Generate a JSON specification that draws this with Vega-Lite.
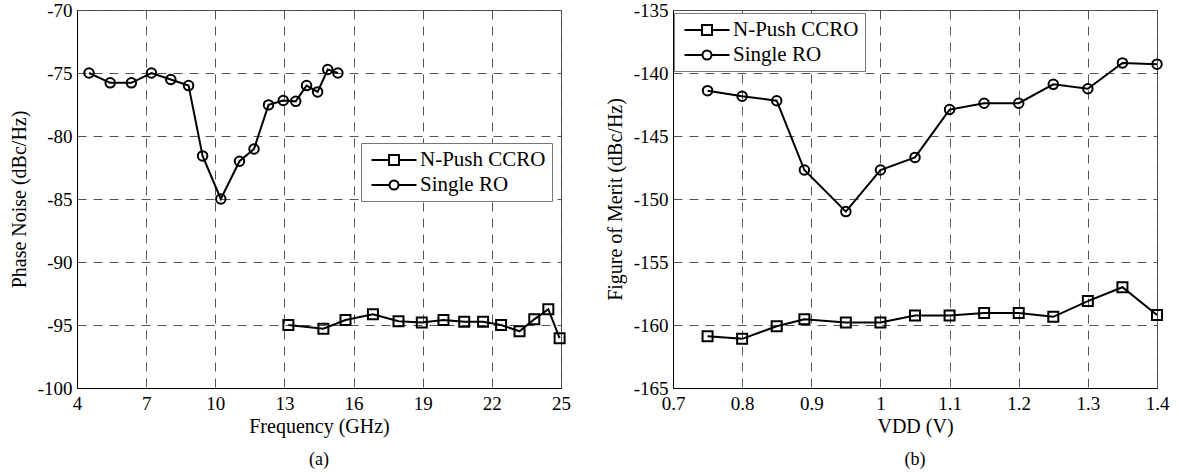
{
  "$schema": "https://vega.github.io/schema/vega-lite/v6.json",
  "background": "white",
  "padding": {"left": 8, "top": 0, "right": 10, "bottom": 0},
  "spacing": 33,
  "datasets": {
    "pn": [
      {"s": "Single RO", "x": 4.52, "y": -75.0},
      {"s": "Single RO", "x": 5.44, "y": -75.78},
      {"s": "Single RO", "x": 6.36, "y": -75.78},
      {"s": "Single RO", "x": 7.23, "y": -75.0},
      {"s": "Single RO", "x": 8.07, "y": -75.52},
      {"s": "Single RO", "x": 8.84, "y": -76.0},
      {"s": "Single RO", "x": 9.45, "y": -81.58},
      {"s": "Single RO", "x": 10.24, "y": -85.0},
      {"s": "Single RO", "x": 11.05, "y": -82.0},
      {"s": "Single RO", "x": 11.68, "y": -81.03},
      {"s": "Single RO", "x": 12.31, "y": -77.53},
      {"s": "Single RO", "x": 12.95, "y": -77.18},
      {"s": "Single RO", "x": 13.49, "y": -77.25},
      {"s": "Single RO", "x": 13.96, "y": -76.0},
      {"s": "Single RO", "x": 14.44, "y": -76.5},
      {"s": "Single RO", "x": 14.88, "y": -74.72},
      {"s": "Single RO", "x": 15.32, "y": -75.0},
      {"s": "N-Push CCRO", "x": 13.17, "y": -95.0},
      {"s": "N-Push CCRO", "x": 14.69, "y": -95.3},
      {"s": "N-Push CCRO", "x": 15.65, "y": -94.6},
      {"s": "N-Push CCRO", "x": 16.84, "y": -94.15},
      {"s": "N-Push CCRO", "x": 17.95, "y": -94.7},
      {"s": "N-Push CCRO", "x": 18.96, "y": -94.8},
      {"s": "N-Push CCRO", "x": 19.9, "y": -94.6},
      {"s": "N-Push CCRO", "x": 20.8, "y": -94.75},
      {"s": "N-Push CCRO", "x": 21.62, "y": -94.75},
      {"s": "N-Push CCRO", "x": 22.4, "y": -95.0},
      {"s": "N-Push CCRO", "x": 23.2, "y": -95.5},
      {"s": "N-Push CCRO", "x": 23.84, "y": -94.55},
      {"s": "N-Push CCRO", "x": 24.45, "y": -93.75},
      {"s": "N-Push CCRO", "x": 24.94, "y": -96.05}
    ],
    "fom": [
      {"s": "Single RO", "x": 0.75, "y": -141.4},
      {"s": "Single RO", "x": 0.8, "y": -141.85},
      {"s": "Single RO", "x": 0.85, "y": -142.2},
      {"s": "Single RO", "x": 0.89, "y": -147.7},
      {"s": "Single RO", "x": 0.95, "y": -151.0},
      {"s": "Single RO", "x": 1.0, "y": -147.7},
      {"s": "Single RO", "x": 1.05, "y": -146.7},
      {"s": "Single RO", "x": 1.1, "y": -142.9},
      {"s": "Single RO", "x": 1.15, "y": -142.4},
      {"s": "Single RO", "x": 1.2, "y": -142.4},
      {"s": "Single RO", "x": 1.25, "y": -140.9},
      {"s": "Single RO", "x": 1.3, "y": -141.25},
      {"s": "Single RO", "x": 1.35, "y": -139.2},
      {"s": "Single RO", "x": 1.4, "y": -139.3},
      {"s": "N-Push CCRO", "x": 0.75, "y": -160.9},
      {"s": "N-Push CCRO", "x": 0.8, "y": -161.1},
      {"s": "N-Push CCRO", "x": 0.85, "y": -160.1},
      {"s": "N-Push CCRO", "x": 0.89, "y": -159.55},
      {"s": "N-Push CCRO", "x": 0.95, "y": -159.8},
      {"s": "N-Push CCRO", "x": 1.0, "y": -159.8},
      {"s": "N-Push CCRO", "x": 1.05, "y": -159.25},
      {"s": "N-Push CCRO", "x": 1.1, "y": -159.25},
      {"s": "N-Push CCRO", "x": 1.15, "y": -159.05},
      {"s": "N-Push CCRO", "x": 1.2, "y": -159.05},
      {"s": "N-Push CCRO", "x": 1.25, "y": -159.35},
      {"s": "N-Push CCRO", "x": 1.3, "y": -158.1},
      {"s": "N-Push CCRO", "x": 1.35, "y": -157.0},
      {"s": "N-Push CCRO", "x": 1.4, "y": -159.2}
    ]
  },
  "hconcat": [
    {
      "width": 484,
      "height": 378,
      "data": {"name": "pn"},
      "title": {"text": "(a)", "orient": "bottom", "fontSize": 18, "fontWeight": "normal", "font": "Liberation Serif", "offset": 15},
      "encoding": {
        "x": {"field": "x", "type": "quantitative", "scale": {"domain": [4, 25], "nice": false, "zero": false},
          "axis": {"title": "Frequency (GHz)", "values": [4, 7, 10, 13, 16, 19, 22, 25]}},
        "y": {"field": "y", "type": "quantitative", "scale": {"domain": [-100, -70], "nice": false, "zero": false},
          "axis": {"title": "Phase Noise (dBc/Hz)", "values": [-100, -95, -90, -85, -80, -75, -70], "labelExpr": "replace(datum.label, '−', '-')"}}
      },
      "layer": [
        {"mark": {"type": "line", "color": "black", "strokeWidth": 2}, "encoding": {"detail": {"field": "s"}}},
        {"transform": [{"filter": "datum.s === 'N-Push CCRO'"}], "mark": {"type": "point", "shape": "square", "filled": false, "color": "black", "strokeWidth": 2, "size": 100, "opacity": 1}},
        {"transform": [{"filter": "datum.s === 'Single RO'"}], "mark": {"type": "point", "shape": "circle", "filled": false, "color": "black", "strokeWidth": 2, "size": 90, "opacity": 1}},
        {"transform": [{"filter": "false"}], "mark": {"type": "point", "filled": false, "color": "black", "opacity": 1},
          "encoding": {"shape": {"field": "s", "type": "nominal",
            "scale": {"domain": ["N-Push CCRO", "Single RO"], "range": ["M-2.25,0H-0.5M0.5,0H2.25M-0.5,-0.5H0.5V0.5H-0.5Z", "M-2.25,0H-0.45M0.45,0H2.25M-0.45,0A0.45,0.45 0 1,0 0.45,0A0.45,0.45 0 1,0 -0.45,0Z"]},
            "legend": {"title": null, "orient": "none", "legendX": 284, "legendY": 133}}}}
      ]
    },
    {
      "width": 484,
      "height": 378,
      "data": {"name": "fom"},
      "title": {"text": "(b)", "orient": "bottom", "fontSize": 18, "fontWeight": "normal", "font": "Liberation Serif", "offset": 15},
      "encoding": {
        "x": {"field": "x", "type": "quantitative", "scale": {"domain": [0.7, 1.4], "nice": false, "zero": false},
          "axis": {"title": "VDD (V)", "values": [0.7, 0.8, 0.9, 1.0, 1.1, 1.2, 1.3, 1.4], "format": "~g"}},
        "y": {"field": "y", "type": "quantitative", "scale": {"domain": [-165, -135], "nice": false, "zero": false},
          "axis": {"title": "Figure of Merit (dBc/Hz)", "values": [-165, -160, -155, -150, -145, -140, -135], "labelExpr": "replace(datum.label, '−', '-')"}}
      },
      "layer": [
        {"mark": {"type": "line", "color": "black", "strokeWidth": 2}, "encoding": {"detail": {"field": "s"}}},
        {"transform": [{"filter": "datum.s === 'N-Push CCRO'"}], "mark": {"type": "point", "shape": "square", "filled": false, "color": "black", "strokeWidth": 2, "size": 100, "opacity": 1}},
        {"transform": [{"filter": "datum.s === 'Single RO'"}], "mark": {"type": "point", "shape": "circle", "filled": false, "color": "black", "strokeWidth": 2, "size": 90, "opacity": 1}},
        {"transform": [{"filter": "false"}], "mark": {"type": "point", "filled": false, "color": "black", "opacity": 1},
          "encoding": {"shape": {"field": "s", "type": "nominal",
            "scale": {"domain": ["N-Push CCRO", "Single RO"], "range": ["M-2.25,0H-0.5M0.5,0H2.25M-0.5,-0.5H0.5V0.5H-0.5Z", "M-2.25,0H-0.45M0.45,0H2.25M-0.45,0A0.45,0.45 0 1,0 0.45,0A0.45,0.45 0 1,0 -0.45,0Z"]},
            "legend": {"title": null, "orient": "none", "legendX": 1, "legendY": 3}}}}
      ]
    }
  ],
  "resolve": {"legend": {"shape": "independent"}},
  "config": {
    "font": "Liberation Serif",
    "view": {"stroke": "#444", "strokeWidth": 1},
    "axis": {
      "domainColor": "black", "domainWidth": 1,
      "grid": true, "gridColor": "#555", "gridDash": [9, 7], "gridWidth": 1, "gridOpacity": 1,
      "ticks": false, "labelPadding": 5, "labelFontSize": 19, "labelColor": "black", "labelFont": "Liberation Serif",
      "titleFontSize": 20, "titleFontWeight": "normal", "titleColor": "black", "titleFont": "Liberation Serif",
      "labelFlush": false, "labelOverlap": false
    },
    "axisY": {"titlePadding": 8},
    "axisX": {"titlePadding": 3, "labelPadding": 6},
    "legend": {
      "labelFontSize": 21, "labelColor": "black", "labelFont": "Liberation Serif",
      "symbolSize": 400, "symbolStrokeWidth": 2, "symbolStrokeColor": "black", "symbolFillColor": "white",
      "symbolOffset": 16, "labelOffset": 15,
      "strokeColor": "#777", "fillColor": "white", "padding": 6, "rowPadding": 4, "symbolOpacity": 1
    }
  }
}
